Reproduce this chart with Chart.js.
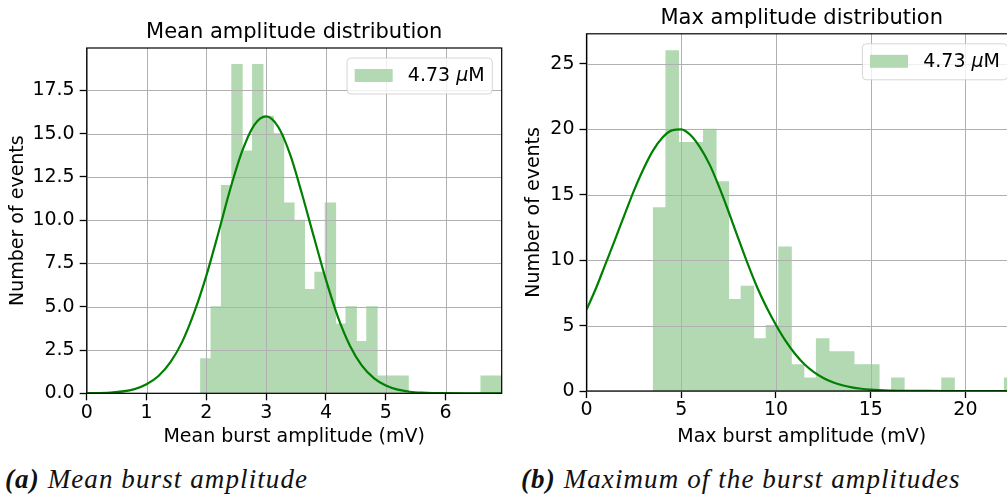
<!DOCTYPE html>
<html>
<head>
<meta charset="utf-8">
<title>Burst amplitude distributions</title>
<script src="https://cdn.jsdelivr.net/npm/chart.js@4.4.1/dist/chart.umd.min.js"></script>
<style>
  html, body { margin: 0; padding: 0; background: #fff; overflow: hidden; }
  body { width: 1007px; height: 503px; position: relative; }
  canvas { position: absolute; top: 0; }
  #chartMean { left: 0; }
  #chartMax { left: 520px; }
  .caption {
    position: absolute; top: 464px; white-space: nowrap; color: #111;
    font-family: "Liberation Serif", serif; font-style: italic;
    font-size: 27px; letter-spacing: 1.1px;
  }
  .caption b { font-weight: bold; }
</style>
</head>
<body>
<canvas id="chartMean" width="520" height="460"></canvas>
<canvas id="chartMax" width="520" height="460"></canvas>
<div class="caption" style="left:5px"><b>(a)</b> Mean burst amplitude</div>
<div class="caption" style="left:521px"><b>(b)</b> Maximum of the burst amplitudes</div>

<script>
// histogram counts (29 bins spanning [min, max] of the data), mV
const meanCounts = [2, 5, 12, 19, 14, 19, 16, 15, 11, 10, 6, 7, 11, 4, 5, 3, 5, 1, 1, 1, 0, 0, 0, 0, 0, 0, 0, 1, 1];
const meanRange = [1.905, 6.937];
const maxCounts = [14, 26, 19, 19, 20, 16, 7, 8, 4, 5, 11, 2, 1, 4, 3, 3, 2, 2, 0, 1, 0, 0, 0, 1, 0, 0, 0, 0, 1];
const maxRange = [3.53, 22.72];

// fitted gaussian curves
const meanFitX = [0, 0.4, 0.8, 1.0, 1.2, 1.4, 1.6, 1.8, 2.0, 2.2, 2.4, 2.6, 2.8, 3.0, 3.2, 3.4, 3.6, 3.8, 4.0, 4.2, 4.4, 4.6, 4.8, 5.0, 5.2, 5.4, 5.6, 6.0, 6.5, 6.94];
const meanFitY = [0.01, 0.04, 0.24, 0.52, 1.0, 1.8, 3.0, 4.7, 6.8, 9.25, 11.8, 14.0, 15.5, 16.0, 15.4, 13.8, 11.5, 9.0, 6.55, 4.4, 2.75, 1.6, 0.88, 0.45, 0.21, 0.09, 0.04, 0.005, 0, 0];
const maxFitX = [0, 0.5, 1, 1.5, 2, 2.5, 3, 3.5, 4, 4.5, 5, 5.5, 6, 6.5, 7, 7.5, 8, 8.5, 9, 9.5, 10, 10.5, 11, 11.5, 12, 12.5, 13, 13.5, 14, 14.5, 15, 16, 17, 18, 20, 22.72];
const maxFitY = [6.2, 7.85, 9.7, 11.55, 13.45, 15.3, 16.95, 18.35, 19.35, 19.92, 20.0, 19.55, 18.6, 17.3, 15.6, 13.7, 11.7, 9.75, 7.95, 6.4, 5.05, 3.85, 2.85, 2.05, 1.45, 1.0, 0.67, 0.44, 0.28, 0.17, 0.10, 0.035, 0.01, 0.003, 0, 0];

// tick labels
const meanXTicks = [0, 1, 2, 3, 4, 5, 6];
const meanYTicks = [0, 2.5, 5, 7.5, 10, 12.5, 15, 17.5];
const maxXTicks = [0, 5, 10, 15, 20];
const maxYTicks = [0, 5, 10, 15, 20, 25];

const concentration = '4.73';

const FONT = 'DejaVu Sans';
const FS = 19;
const BAR_GREEN = 'rgb(178,217,178)'; // green at 0.3 alpha on white
const GRID = '#b0b0b0';
Chart.defaults.font.family = FONT;
Chart.defaults.font.size = FS;
Chart.defaults.color = '#000';

// title above the plot area
const axesTitle = {
  id: 'axesTitle',
  afterDraw(chart, args, opts) {
    const { ctx, chartArea: a } = chart;
    ctx.save();
    ctx.font = `21px "${FONT}"`;
    ctx.fillStyle = '#000';
    ctx.textAlign = 'center';
    ctx.textBaseline = 'alphabetic';
    ctx.fillText(opts.text, (a.left + a.right) / 2, a.top - 10);
    ctx.restore();
  }
};

// grid lines go on top of the bars but under the fit curve
const gridOver = {
  id: 'gridOver',
  afterDatasetDraw(chart, args) {
    if (args.index !== 0) return;
    const { ctx, chartArea: a, scales: { x, y } } = chart;
    ctx.save();
    ctx.strokeStyle = GRID;
    ctx.lineWidth = 1;
    ctx.beginPath();
    x.ticks.forEach(t => {
      const px = Math.round(x.getPixelForValue(t.value)) + 0.5;
      ctx.moveTo(px, a.top);
      ctx.lineTo(px, a.bottom);
    });
    y.ticks.forEach(t => {
      const py = Math.round(y.getPixelForValue(t.value)) + 0.5;
      ctx.moveTo(a.left, py);
      ctx.lineTo(a.right, py);
    });
    ctx.stroke();
    ctx.restore();
  }
};

// matplotlib-like frame around the axes
const frame = {
  id: 'frame',
  afterDatasetsDraw(chart) {
    const { ctx, chartArea: a } = chart;
    ctx.save();
    ctx.strokeStyle = '#000';
    ctx.lineWidth = 1.2;
    ctx.strokeRect(a.left, a.top, a.right - a.left, a.bottom - a.top);
    ctx.restore();
  }
};

// legend box in the upper right corner
const boxLegend = {
  id: 'boxLegend',
  afterDraw(chart) {
    const { ctx, chartArea: a } = chart;
    const ds = chart.data.datasets[0];
    const num = concentration + ' ';
    ctx.save();
    ctx.font = `${FS}px "${FONT}"`;
    const w1 = ctx.measureText(num).width;
    const w3 = ctx.measureText('M').width;
    ctx.font = `italic ${FS}px "${FONT}"`;
    const w2 = ctx.measureText('μ').width;
    const pad = 0.4 * FS, handle = 2 * FS, gap = 0.8 * FS;
    const w = pad + handle + gap + w1 + w2 + w3 + pad;
    const h = 36;
    const right = a.right - 9.4, top = a.top + 10, left = right - w;

    ctx.beginPath();
    ctx.roundRect(left, top, w, h, 4);
    ctx.fillStyle = 'rgba(255,255,255,0.8)';
    ctx.fill();
    ctx.strokeStyle = 'rgba(204,204,204,0.8)';
    ctx.lineWidth = 1;
    ctx.stroke();

    const cy = top + h / 2;
    ctx.fillStyle = ds.backgroundColor;
    ctx.fillRect(left + pad, cy - 7, handle, 13);

    let x = left + pad + handle + gap;
    ctx.fillStyle = '#000';
    ctx.textBaseline = 'middle';
    ctx.textAlign = 'left';
    ctx.font = `${FS}px "${FONT}"`;
    ctx.fillText(num, x, cy);
    x += w1;
    ctx.font = `italic ${FS}px "${FONT}"`;
    ctx.fillText('μ', x, cy);
    x += w2;
    ctx.font = `${FS}px "${FONT}"`;
    ctx.fillText('M', x, cy);
    ctx.restore();
  }
};

function histPoints(counts, range) {
  const w = (range[1] - range[0]) / counts.length;
  return counts.map((c, i) => ({ x: range[0] + (i + 0.5) * w, y: c }));
}

function makeHist(id, o) {
  const area = o.area; // left, right, top, bottom inside the canvas
  const canvas = document.getElementById(id);
  return new Chart(canvas, {
    type: 'bar',
    data: {
      datasets: [
        {
          label: concentration + ' μM',
          data: histPoints(o.counts, o.range),
          backgroundColor: BAR_GREEN,
          borderWidth: 0,
          barPercentage: 1,
          categoryPercentage: 1,
          inflateAmount: 0.5,
          order: 2
        },
        {
          type: 'line',
          data: o.fitX.map((x, i) => ({ x: x, y: o.fitY[i] })),
          borderColor: '#008000',
          borderWidth: 2.2,
          pointRadius: 0,
          fill: false,
          cubicInterpolationMode: 'monotone',
          order: 1
        }
      ]
    },
    options: {
      responsive: false,
      animation: false,
      events: [],
      layout: { padding: { left: 0, top: area.top, right: canvas.width - area.right, bottom: 0 } },
      plugins: {
        legend: { display: false },
        tooltip: { enabled: false },
        axesTitle: { text: o.title }
      },
      scales: {
        x: {
          type: 'linear',
          offset: false,
          min: 0,
          max: o.range[1],
          afterBuildTicks: s => { s.ticks = o.xTicks.map(v => ({ value: v })); },
          afterFit: s => { s.height = canvas.height - area.bottom; },
          ticks: { padding: 1, font: { size: FS }, color: '#000', callback: v => String(v) },
          grid: { offset: false, drawOnChartArea: false, color: GRID, tickColor: '#000', tickLength: 7, tickWidth: 1.3 },
          border: { display: false },
          title: { display: true, text: o.xLabel, font: { size: FS }, color: '#000', padding: { top: 0, bottom: 12 } }
        },
        y: {
          min: 0,
          max: Math.max(...o.counts) * 1.05,
          afterBuildTicks: s => { s.ticks = o.yTicks.map(v => ({ value: v })); },
          afterFit: s => { s.width = area.left; },
          ticks: { padding: 5, font: { size: FS }, color: '#000', callback: o.yFormat },
          grid: { drawOnChartArea: false, color: GRID, tickColor: '#000', tickLength: 7, tickWidth: 1.3 },
          border: { display: false },
          title: { display: true, text: 'Number of events', font: { size: FS }, color: '#000', padding: { top: o.yTitlePad, bottom: 0 } }
        }
      }
    },
    plugins: [axesTitle, gridOver, frame, boxLegend]
  });
}

makeHist('chartMean', {
  area: { left: 86.7, right: 501.7, top: 48, bottom: 393.3 },
  counts: meanCounts, range: meanRange,
  fitX: meanFitX, fitY: meanFitY,
  xTicks: meanXTicks, yTicks: meanYTicks,
  yFormat: v => v.toFixed(1),
  yTitlePad: 7,
  title: 'Mean amplitude distribution',
  xLabel: 'Mean burst amplitude (mV)'
});

makeHist('chartMax', {
  area: { left: 66.5, right: 497, top: 33.8, bottom: 391 },
  counts: maxCounts, range: maxRange,
  fitX: maxFitX, fitY: maxFitY,
  xTicks: maxXTicks, yTicks: maxYTicks,
  yFormat: v => String(v),
  yTitlePad: 3,
  title: 'Max amplitude distribution',
  xLabel: 'Max burst amplitude (mV)'
});
</script>
</body>
</html>
